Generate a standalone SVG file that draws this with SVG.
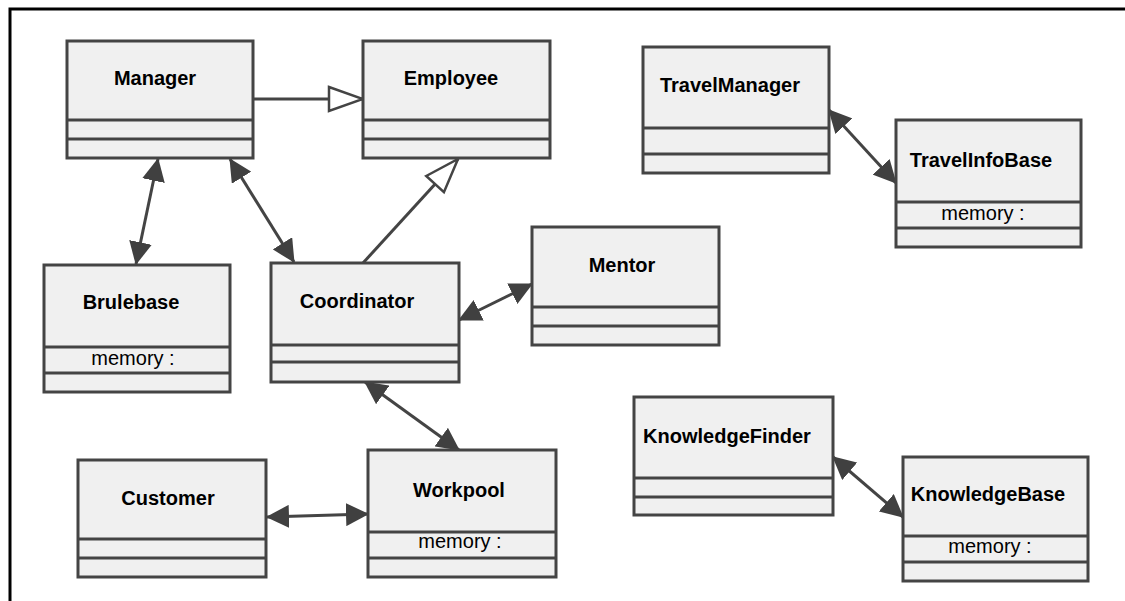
<svg xmlns="http://www.w3.org/2000/svg" width="1125" height="601" viewBox="0 0 1125 601">
<style>
.box{fill:#f0f0f0;stroke:#444;stroke-width:3}
.div{stroke:#444;stroke-width:3}
.t{font-family:"Liberation Sans",Arial,sans-serif;font-weight:bold;font-size:20px;fill:#000;text-anchor:middle}
.m{font-family:"Liberation Sans",Arial,sans-serif;font-size:20px;fill:#000;text-anchor:middle}
.c{stroke:#444;stroke-width:3;fill:none}
.assoc{marker-start:url(#fa);marker-end:url(#fa)}
.gen{marker-end:url(#ga)}
</style>
<defs>
<marker id="fa" viewBox="0 0 23 23" refX="22" refY="11.5" markerWidth="23" markerHeight="23" markerUnits="userSpaceOnUse" orient="auto-start-reverse">
<path d="M0,0 L23,11.5 L0,23 z" fill="#404040"/>
</marker>
<marker id="ga" viewBox="-2 -2 38 28" refX="34" refY="12" markerWidth="38" markerHeight="28" markerUnits="userSpaceOnUse" orient="auto">
<path d="M0,0 L34,12 L0,24 z" fill="#fff" stroke="#444" stroke-width="2.5"/>
</marker>
</defs>
<rect width="1125" height="601" fill="#fff"/>
<path d="M10,601 V9 H1125" fill="none" stroke="#000" stroke-width="3"/>

<g id="connectors">
<line class="c gen" x1="253" y1="99" x2="363" y2="99"/>
<line class="c gen" x1="363" y1="263" x2="458" y2="159"/>
<line class="c assoc" x1="158" y1="159" x2="136" y2="264"/>
<line class="c assoc" x1="230" y1="159" x2="294" y2="262"/>
<line class="c assoc" x1="459" y1="320" x2="532" y2="284"/>
<line class="c assoc" x1="365" y1="382" x2="459" y2="450"/>
<line class="c assoc" x1="267" y1="517" x2="368" y2="514"/>
<line class="c assoc" x1="829" y1="110" x2="896" y2="183"/>
<line class="c assoc" x1="833" y1="457" x2="903" y2="517"/>
</g>

<g id="Manager">
<rect class="box" x="67" y="41" width="186" height="117"/>
<line class="div" x1="67" y1="120" x2="253" y2="120"/>
<line class="div" x1="67" y1="139" x2="253" y2="139"/>
<text class="t" x="155" y="85">Manager</text>
</g>

<g id="Employee">
<rect class="box" x="363" y="41" width="187" height="117"/>
<line class="div" x1="363" y1="120" x2="550" y2="120"/>
<line class="div" x1="363" y1="139" x2="550" y2="139"/>
<text class="t" x="451" y="85">Employee</text>
</g>

<g id="Brulebase">
<rect class="box" x="44" y="265" width="186" height="127"/>
<line class="div" x1="44" y1="347" x2="230" y2="347"/>
<line class="div" x1="44" y1="373" x2="230" y2="373"/>
<text class="t" x="131" y="309">Brulebase</text>
<text class="m" x="133" y="365">memory :</text>
</g>

<g id="Coordinator">
<rect class="box" x="271" y="263" width="188" height="119"/>
<line class="div" x1="271" y1="345" x2="459" y2="345"/>
<line class="div" x1="271" y1="362" x2="459" y2="362"/>
<text class="t" x="357" y="308">Coordinator</text>
</g>

<g id="Mentor">
<rect class="box" x="532" y="227" width="187" height="118"/>
<line class="div" x1="532" y1="307" x2="719" y2="307"/>
<line class="div" x1="532" y1="326" x2="719" y2="326"/>
<text class="t" x="622" y="272">Mentor</text>
</g>

<g id="TravelManager">
<rect class="box" x="643" y="47" width="186" height="126"/>
<line class="div" x1="643" y1="128" x2="829" y2="128"/>
<line class="div" x1="643" y1="154" x2="829" y2="154"/>
<text class="t" x="730" y="92">TravelManager</text>
</g>

<g id="TravelInfoBase">
<rect class="box" x="896" y="120" width="185" height="127"/>
<line class="div" x1="896" y1="202" x2="1081" y2="202"/>
<line class="div" x1="896" y1="228" x2="1081" y2="228"/>
<text class="t" x="981" y="167">TravelInfoBase</text>
<text class="m" x="983" y="220">memory :</text>
</g>

<g id="Customer">
<rect class="box" x="78" y="460" width="188" height="117"/>
<line class="div" x1="78" y1="539" x2="266" y2="539"/>
<line class="div" x1="78" y1="558" x2="266" y2="558"/>
<text class="t" x="168" y="505">Customer</text>
</g>

<g id="Workpool">
<rect class="box" x="368" y="450" width="188" height="127"/>
<line class="div" x1="368" y1="532" x2="556" y2="532"/>
<line class="div" x1="368" y1="558" x2="556" y2="558"/>
<text class="t" x="459" y="497">Workpool</text>
<text class="m" x="460" y="548">memory :</text>
</g>

<g id="KnowledgeFinder">
<rect class="box" x="634" y="397" width="199" height="118"/>
<line class="div" x1="634" y1="478" x2="833" y2="478"/>
<line class="div" x1="634" y1="497" x2="833" y2="497"/>
<text class="t" x="727" y="443">KnowledgeFinder</text>
</g>

<g id="KnowledgeBase">
<rect class="box" x="903" y="457" width="185" height="124"/>
<line class="div" x1="903" y1="536" x2="1088" y2="536"/>
<line class="div" x1="903" y1="562" x2="1088" y2="562"/>
<text class="t" x="988" y="501">KnowledgeBase</text>
<text class="m" x="990" y="553">memory :</text>
</g>
</svg>
